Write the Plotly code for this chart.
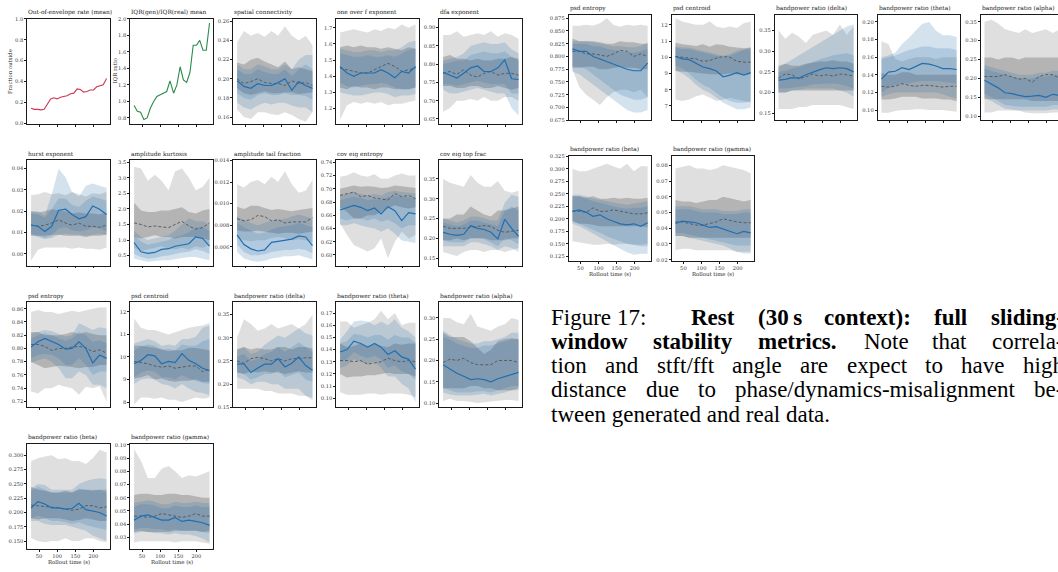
import plotly.graph_objects as go

# ---------------------------------------------------------------- data
times = [28, 47, 66, 85, 104, 123, 141, 160, 179, 198, 217, 236]
times_fine = [28, 37, 46, 55, 64, 73, 82, 91, 100, 109, 118, 127,
              137, 146, 155, 164, 173, 182, 191, 200, 209, 218, 227, 236]

out_of_envelope_rate = [0.145, 0.135, 0.135, 0.13, 0.135, 0.18, 0.235, 0.245, 0.235, 0.25, 0.26, 0.265,
                        0.285, 0.29, 0.33, 0.325, 0.30, 0.305, 0.32, 0.32, 0.35, 0.36, 0.37, 0.43]
iqr_ratio_mean = [0.95, 0.88, 0.87, 0.78, 0.80, 0.92, 1.0, 1.06, 1.08, 1.1, 1.12, 1.25,
                  1.1, 1.2, 1.42, 1.26, 1.23, 1.35, 1.68, 1.68, 1.74, 1.62, 1.62, 1.95]

# 60 s context metrics: percentiles over windows (p5, p25, p50, p75, p95)
spatial_connectivity = {
    "real": dict(p5=[0.168, 0.16, 0.158, 0.165, 0.165, 0.163, 0.162, 0.165, 0.162, 0.158, 0.155, 0.165],
                 p25=[0.19, 0.185, 0.183, 0.185, 0.187, 0.185, 0.185, 0.186, 0.186, 0.184, 0.185, 0.186],
                 p50=[0.2, 0.195, 0.197, 0.2, 0.196, 0.195, 0.195, 0.193, 0.198, 0.195, 0.196, 0.193],
                 p75=[0.217, 0.215, 0.22, 0.222, 0.218, 0.215, 0.212, 0.218, 0.21, 0.212, 0.21, 0.208],
                 p95=[0.238, 0.25, 0.245, 0.248, 0.244, 0.25, 0.245, 0.255, 0.245, 0.24, 0.245, 0.235]),
    "gen": dict(p5=[0.175, 0.17, 0.168, 0.172, 0.175, 0.173, 0.175, 0.175, 0.172, 0.17, 0.17, 0.165],
                p25=[0.185, 0.18, 0.178, 0.183, 0.185, 0.183, 0.183, 0.185, 0.183, 0.183, 0.182, 0.178],
                p50=[0.198, 0.192, 0.19, 0.195, 0.193, 0.193, 0.196, 0.2, 0.188, 0.197, 0.193, 0.19],
                p75=[0.21, 0.205, 0.205, 0.21, 0.207, 0.205, 0.205, 0.21, 0.203, 0.21, 0.215, 0.21],
                p95=[0.215, 0.21, 0.21, 0.215, 0.213, 0.21, 0.21, 0.215, 0.21, 0.22, 0.225, 0.225]),
}
one_over_f_exponent = {
    "real": dict(p5=[1.13, 1.22, 1.24, 1.23, 1.24, 1.23, 1.24, 1.22, 1.23, 1.23, 1.24, 1.25],
                 p25=[1.33, 1.32, 1.34, 1.33, 1.33, 1.32, 1.33, 1.33, 1.32, 1.32, 1.32, 1.33],
                 p50=[1.45, 1.44, 1.43, 1.42, 1.42, 1.44, 1.46, 1.48, 1.46, 1.43, 1.44, 1.45],
                 p75=[1.58, 1.59, 1.58, 1.59, 1.58, 1.58, 1.57, 1.58, 1.57, 1.56, 1.58, 1.57],
                 p95=[1.67, 1.68, 1.69, 1.68, 1.67, 1.69, 1.68, 1.70, 1.69, 1.72, 1.70, 1.72]),
    "gen": dict(p5=[1.30, 1.29, 1.28, 1.28, 1.29, 1.30, 1.30, 1.29, 1.27, 1.28, 1.28, 1.29],
                p25=[1.36, 1.34, 1.33, 1.34, 1.35, 1.35, 1.36, 1.35, 1.33, 1.32, 1.32, 1.33],
                p50=[1.46, 1.42, 1.40, 1.42, 1.42, 1.42, 1.44, 1.42, 1.39, 1.43, 1.42, 1.46],
                p75=[1.54, 1.53, 1.52, 1.52, 1.53, 1.52, 1.52, 1.53, 1.52, 1.54, 1.56, 1.57],
                p95=[1.57, 1.56, 1.55, 1.55, 1.56, 1.56, 1.55, 1.56, 1.56, 1.58, 1.61, 1.62]),
}
dfa_exponent = {
    "real": dict(p5=[0.67, 0.68, 0.70, 0.70, 0.705, 0.70, 0.71, 0.70, 0.70, 0.71, 0.71, 0.70],
                 p25=[0.74, 0.74, 0.735, 0.735, 0.74, 0.74, 0.735, 0.735, 0.74, 0.735, 0.73, 0.735],
                 p50=[0.775, 0.78, 0.772, 0.785, 0.77, 0.765, 0.775, 0.78, 0.77, 0.775, 0.775, 0.77],
                 p75=[0.82, 0.825, 0.815, 0.815, 0.81, 0.815, 0.81, 0.81, 0.815, 0.815, 0.82, 0.815],
                 p95=[0.88, 0.88, 0.89, 0.875, 0.88, 0.885, 0.88, 0.89, 0.875, 0.885, 0.88, 0.87]),
    "gen": dict(p5=[0.73, 0.72, 0.72, 0.725, 0.73, 0.735, 0.73, 0.725, 0.72, 0.72, 0.68, 0.66],
                p25=[0.745, 0.745, 0.74, 0.745, 0.75, 0.755, 0.75, 0.745, 0.745, 0.745, 0.72, 0.72],
                p50=[0.778, 0.77, 0.762, 0.775, 0.79, 0.795, 0.78, 0.78, 0.79, 0.812, 0.76, 0.758],
                p75=[0.80, 0.805, 0.81, 0.81, 0.825, 0.83, 0.835, 0.83, 0.83, 0.835, 0.82, 0.81],
                p95=[0.81, 0.815, 0.82, 0.83, 0.85, 0.855, 0.86, 0.855, 0.855, 0.86, 0.84, 0.83]),
}
hurst_exponent = {
    "real": dict(p5=[-0.003, 0.002, 0.003, 0.003, 0.003, 0.003, 0.0025, 0.003, 0.0025, 0.0025, 0.002, 0.003],
                 p25=[0.0085, 0.0085, 0.0085, 0.009, 0.009, 0.0085, 0.0085, 0.0085, 0.008, 0.0085, 0.0085, 0.009],
                 p50=[0.0135, 0.013, 0.0135, 0.0145, 0.016, 0.0145, 0.0135, 0.0145, 0.013, 0.013, 0.0125, 0.0135],
                 p75=[0.020, 0.0195, 0.02, 0.021, 0.0205, 0.02, 0.019, 0.0195, 0.019, 0.019, 0.0185, 0.0195],
                 p95=[0.0275, 0.028, 0.029, 0.028, 0.0285, 0.0275, 0.029, 0.028, 0.027, 0.0285, 0.028, 0.029]),
    "gen": dict(p5=[0.009, 0.008, 0.007, 0.0075, 0.009, 0.0095, 0.009, 0.009, 0.0085, 0.009, 0.0095, 0.009],
                p25=[0.0095, 0.0085, 0.0075, 0.0085, 0.012, 0.0125, 0.011, 0.0105, 0.011, 0.0125, 0.012, 0.0105],
                p50=[0.0135, 0.013, 0.0105, 0.013, 0.0205, 0.021, 0.0185, 0.0165, 0.0175, 0.0225, 0.021, 0.0185],
                p75=[0.019, 0.0185, 0.017, 0.021, 0.026, 0.026, 0.023, 0.022, 0.025, 0.027, 0.026, 0.025],
                p95=[0.020, 0.020, 0.018, 0.028, 0.040, 0.036, 0.029, 0.027, 0.032, 0.033, 0.032, 0.031]),
}
amplitude_kurtosis = {
    "real": dict(p5=[0.75, 0.65, 0.7, 0.75, 0.8, 0.72, 0.7, 0.75, 0.7, 0.8, 0.75, 0.85],
                 p25=[1.1, 1.05, 1.1, 1.15, 1.1, 1.1, 1.05, 1.1, 1.1, 1.1, 1.05, 1.0],
                 p50=[1.55, 1.5, 1.42, 1.45, 1.42, 1.4, 1.5, 1.6, 1.45, 1.35, 1.4, 1.55],
                 p75=[2.2, 1.95, 1.9, 1.9, 1.95, 1.95, 2.0, 2.05, 1.9, 1.85, 1.95, 2.0],
                 p95=[3.35, 3.3, 2.9, 3.1, 2.9, 2.6, 3.2, 3.3, 3.0, 2.6, 2.7, 3.0]),
    "gen": dict(p5=[0.4, 0.35, 0.3, 0.32, 0.35, 0.35, 0.4, 0.42, 0.45, 0.45, 0.4, 0.35],
                p25=[0.55, 0.45, 0.4, 0.42, 0.48, 0.5, 0.55, 0.6, 0.62, 0.7, 0.65, 0.55],
                p50=[0.92, 0.62, 0.57, 0.6, 0.7, 0.72, 0.8, 0.85, 0.88, 1.1, 1.05, 0.8],
                p75=[1.15, 0.95, 0.85, 0.9, 0.95, 1.0, 1.1, 1.15, 1.25, 1.4, 1.4, 1.3],
                p95=[1.3, 1.1, 1.0, 1.05, 1.1, 1.15, 1.3, 1.5, 1.7, 1.6, 1.6, 1.5]),
}
amplitude_tail_fraction = {
    "real": dict(p5=[0.0068, 0.0066, 0.0065, 0.0066, 0.0066, 0.0068, 0.0069, 0.0068, 0.0066, 0.0067, 0.0066, 0.0064],
                 p25=[0.0075, 0.0074, 0.0074, 0.0075, 0.0074, 0.0073, 0.0072, 0.0073, 0.0073, 0.0072, 0.0073, 0.0074],
                 p50=[0.0086, 0.0084, 0.0085, 0.0089, 0.0088, 0.0084, 0.0085, 0.0082, 0.0083, 0.0083, 0.0083, 0.0087],
                 p75=[0.0097, 0.0095, 0.0098, 0.0098, 0.0096, 0.0094, 0.0095, 0.0094, 0.0093, 0.0094, 0.0095, 0.0096],
                 p95=[0.0118, 0.0115, 0.012, 0.0122, 0.0118, 0.0125, 0.012, 0.013, 0.0118, 0.011, 0.0112, 0.0122]),
    "gen": dict(p5=[0.0055, 0.0049, 0.0047, 0.0046, 0.0047, 0.0049, 0.005, 0.0051, 0.0051, 0.0052, 0.005, 0.0048],
                p25=[0.0062, 0.0055, 0.0052, 0.0052, 0.0053, 0.0055, 0.0056, 0.0057, 0.0057, 0.0058, 0.0057, 0.0054],
                p50=[0.0071, 0.0062, 0.0058, 0.0056, 0.0057, 0.0064, 0.0065, 0.0066, 0.0067, 0.0070, 0.0069, 0.0061],
                p75=[0.0082, 0.0078, 0.0075, 0.0072, 0.0073, 0.0076, 0.0078, 0.0079, 0.0080, 0.0082, 0.0080, 0.0078],
                p95=[0.0088, 0.0085, 0.0082, 0.008, 0.0082, 0.0084, 0.0085, 0.0086, 0.0088, 0.0090, 0.0088, 0.0086]),
}
cov_eig_entropy = {
    "real": dict(p5=[0.648, 0.63, 0.615, 0.61, 0.605, 0.61, 0.625, 0.595, 0.62, 0.635, 0.625, 0.63],
                 p25=[0.672, 0.665, 0.655, 0.655, 0.66, 0.66, 0.665, 0.67, 0.675, 0.672, 0.67, 0.672],
                 p50=[0.69, 0.692, 0.695, 0.688, 0.69, 0.686, 0.684, 0.683, 0.693, 0.688, 0.69, 0.685],
                 p75=[0.70, 0.702, 0.705, 0.703, 0.704, 0.703, 0.701, 0.702, 0.705, 0.704, 0.703, 0.701],
                 p95=[0.718, 0.72, 0.725, 0.72, 0.718, 0.722, 0.715, 0.715, 0.72, 0.723, 0.72, 0.72]),
    "gen": dict(p5=[0.645, 0.645, 0.648, 0.645, 0.642, 0.64, 0.635, 0.64, 0.632, 0.622, 0.62, 0.618],
                p25=[0.655, 0.652, 0.655, 0.655, 0.652, 0.655, 0.65, 0.653, 0.648, 0.64, 0.645, 0.645],
                p50=[0.668, 0.672, 0.675, 0.672, 0.667, 0.671, 0.662, 0.673, 0.667, 0.652, 0.664, 0.662],
                p75=[0.683, 0.685, 0.688, 0.686, 0.683, 0.684, 0.683, 0.688, 0.69, 0.688, 0.687, 0.686],
                p95=[0.69, 0.692, 0.695, 0.692, 0.69, 0.692, 0.69, 0.695, 0.697, 0.695, 0.694, 0.693]),
}
cov_eig_top_frac = {
    "real": dict(p5=[0.165, 0.16, 0.155, 0.165, 0.17, 0.17, 0.165, 0.17, 0.17, 0.165, 0.17, 0.175],
                 p25=[0.195, 0.195, 0.2, 0.195, 0.2, 0.2, 0.2, 0.195, 0.195, 0.195, 0.2, 0.2],
                 p50=[0.23, 0.225, 0.225, 0.225, 0.228, 0.23, 0.232, 0.23, 0.22, 0.215, 0.218, 0.22],
                 p75=[0.25, 0.25, 0.26, 0.26, 0.28, 0.27, 0.26, 0.255, 0.27, 0.27, 0.275, 0.28],
                 p95=[0.35, 0.34, 0.335, 0.33, 0.36, 0.34, 0.33, 0.33, 0.345, 0.32, 0.315, 0.32]),
    "gen": dict(p5=[0.18, 0.18, 0.18, 0.18, 0.19, 0.19, 0.185, 0.18, 0.17, 0.18, 0.175, 0.165],
                p25=[0.195, 0.19, 0.19, 0.19, 0.2, 0.2, 0.198, 0.19, 0.18, 0.2, 0.195, 0.185],
                p50=[0.215, 0.21, 0.207, 0.21, 0.232, 0.225, 0.222, 0.215, 0.198, 0.248, 0.225, 0.205],
                p75=[0.24, 0.235, 0.23, 0.235, 0.245, 0.245, 0.24, 0.235, 0.23, 0.27, 0.28, 0.27],
                p95=[0.25, 0.245, 0.24, 0.245, 0.255, 0.255, 0.25, 0.245, 0.245, 0.29, 0.31, 0.305]),
}
psd_entropy = {
    "real": dict(p5=[0.735, 0.732, 0.74, 0.74, 0.745, 0.742, 0.74, 0.73, 0.742, 0.74, 0.743, 0.72],
                 p25=[0.78, 0.775, 0.77, 0.772, 0.774, 0.773, 0.772, 0.77, 0.772, 0.772, 0.775, 0.775],
                 p50=[0.806, 0.806, 0.803, 0.797, 0.80, 0.80, 0.802, 0.803, 0.801, 0.795, 0.798, 0.793],
                 p75=[0.825, 0.825, 0.82, 0.82, 0.82, 0.822, 0.825, 0.822, 0.825, 0.822, 0.82, 0.82],
                 p95=[0.855, 0.858, 0.855, 0.855, 0.852, 0.855, 0.857, 0.855, 0.858, 0.86, 0.862, 0.862]),
    "gen": dict(p5=[0.778, 0.782, 0.785, 0.78, 0.77, 0.755, 0.755, 0.765, 0.76, 0.745, 0.745, 0.74],
                p25=[0.785, 0.79, 0.792, 0.79, 0.785, 0.775, 0.775, 0.785, 0.775, 0.76, 0.765, 0.765],
                p50=[0.802, 0.81, 0.815, 0.811, 0.806, 0.799, 0.80, 0.81, 0.80, 0.778, 0.79, 0.785],
                p75=[0.815, 0.82, 0.823, 0.82, 0.815, 0.812, 0.815, 0.825, 0.82, 0.81, 0.812, 0.808],
                p95=[0.822, 0.825, 0.828, 0.826, 0.822, 0.818, 0.82, 0.838, 0.833, 0.828, 0.832, 0.83]),
}
psd_centroid = {
    "real": dict(p5=[7.9, 8.2, 8.2, 8.15, 8.2, 8.1, 8.1, 8.0, 8.1, 8.2, 8.15, 8.2],
                 p25=[9.05, 9.1, 9.2, 9.0, 9.05, 8.95, 8.9, 8.95, 8.95, 9.0, 8.9, 8.9],
                 p50=[9.8, 9.75, 9.7, 9.6, 9.55, 9.6, 9.5, 9.55, 9.6, 9.6, 9.35, 9.45],
                 p75=[10.5, 10.5, 10.45, 10.4, 10.35, 10.25, 10.3, 10.3, 10.4, 10.4, 10.35, 10.3],
                 p95=[11.7, 11.3, 11.2, 11.2, 11.1, 11.0, 11.1, 11.2, 11.3, 11.35, 11.4, 11.5]),
    "gen": dict(p5=[8.8, 9.0, 9.05, 9.0, 8.8, 8.75, 8.6, 8.8, 8.6, 8.45, 8.4, 8.3],
                p25=[9.1, 9.3, 9.4, 9.35, 9.1, 9.1, 9.0, 9.2, 9.05, 8.95, 8.85, 8.8],
                p50=[9.7, 9.85, 10.1, 10.05, 9.7, 9.8, 9.75, 10.15, 9.85, 9.7, 9.5, 9.4],
                p75=[10.3, 10.45, 10.55, 10.5, 10.3, 10.35, 10.3, 10.55, 10.5, 10.5, 10.7, 10.8],
                p95=[10.6, 10.7, 10.8, 10.7, 10.5, 10.55, 10.5, 10.8, 10.8, 10.9, 11.3, 11.4]),
}
bandpower_delta = {
    "real": dict(p5=[0.19, 0.19, 0.19, 0.19, 0.185, 0.185, 0.18, 0.18, 0.18, 0.175, 0.175, 0.17],
                 p25=[0.225, 0.222, 0.228, 0.225, 0.228, 0.225, 0.225, 0.222, 0.225, 0.228, 0.225, 0.225],
                 p50=[0.25, 0.245, 0.255, 0.258, 0.255, 0.25, 0.255, 0.25, 0.255, 0.255, 0.257, 0.257],
                 p75=[0.275, 0.28, 0.275, 0.278, 0.275, 0.275, 0.28, 0.28, 0.275, 0.28, 0.28, 0.277],
                 p95=[0.30, 0.34, 0.33, 0.315, 0.32, 0.33, 0.32, 0.325, 0.33, 0.32, 0.33, 0.35]),
    "gen": dict(p5=[0.215, 0.21, 0.2, 0.205, 0.205, 0.2, 0.2, 0.19, 0.19, 0.19, 0.175, 0.165],
                p25=[0.225, 0.222, 0.21, 0.215, 0.222, 0.222, 0.23, 0.215, 0.22, 0.225, 0.21, 0.205],
                p50=[0.243, 0.244, 0.225, 0.235, 0.243, 0.243, 0.255, 0.237, 0.245, 0.259, 0.24, 0.23],
                p75=[0.26, 0.265, 0.25, 0.255, 0.265, 0.27, 0.28, 0.27, 0.28, 0.29, 0.28, 0.27],
                p95=[0.275, 0.28, 0.265, 0.27, 0.285, 0.295, 0.305, 0.30, 0.31, 0.32, 0.31, 0.305]),
}
bandpower_theta = {
    "real": dict(p5=[0.105, 0.103, 0.103, 0.103, 0.104, 0.104, 0.103, 0.104, 0.104, 0.104, 0.103, 0.101],
                 p25=[0.12, 0.117, 0.118, 0.118, 0.119, 0.119, 0.12, 0.121, 0.12, 0.12, 0.12, 0.118],
                 p50=[0.131, 0.131, 0.13, 0.131, 0.128, 0.129, 0.13, 0.133, 0.131, 0.13, 0.131, 0.13],
                 p75=[0.145, 0.142, 0.143, 0.145, 0.143, 0.145, 0.143, 0.142, 0.145, 0.144, 0.145, 0.145],
                 p95=[0.163, 0.163, 0.158, 0.16, 0.162, 0.165, 0.172, 0.165, 0.17, 0.16, 0.162, 0.162]),
    "gen": dict(p5=[0.125, 0.127, 0.132, 0.13, 0.128, 0.13, 0.125, 0.118, 0.118, 0.112, 0.108, 0.097],
                p25=[0.13, 0.132, 0.138, 0.135, 0.133, 0.135, 0.132, 0.125, 0.127, 0.122, 0.12, 0.115],
                p50=[0.138, 0.14, 0.147, 0.145, 0.142, 0.145, 0.142, 0.136, 0.139, 0.134, 0.132, 0.124],
                p75=[0.145, 0.147, 0.153, 0.152, 0.15, 0.152, 0.152, 0.148, 0.152, 0.15, 0.15, 0.146],
                p95=[0.148, 0.155, 0.163, 0.164, 0.163, 0.16, 0.163, 0.16, 0.165, 0.158, 0.155, 0.15]),
}
bandpower_alpha = {
    "real": dict(p5=[0.105, 0.11, 0.105, 0.105, 0.103, 0.1, 0.102, 0.104, 0.105, 0.107, 0.107, 0.105],
                 p25=[0.135, 0.135, 0.135, 0.135, 0.14, 0.14, 0.135, 0.135, 0.13, 0.13, 0.13, 0.135],
                 p50=[0.195, 0.203, 0.2, 0.205, 0.195, 0.19, 0.19, 0.19, 0.2, 0.2, 0.2, 0.195],
                 p75=[0.265, 0.255, 0.255, 0.255, 0.245, 0.23, 0.215, 0.225, 0.245, 0.25, 0.252, 0.25],
                 p95=[0.30, 0.30, 0.29, 0.285, 0.31, 0.28, 0.275, 0.27, 0.28, 0.285, 0.30, 0.295]),
    "gen": dict(p5=[0.125, 0.12, 0.118, 0.118, 0.118, 0.12, 0.122, 0.118, 0.122, 0.125, 0.13, 0.13],
                p25=[0.135, 0.13, 0.125, 0.125, 0.125, 0.128, 0.128, 0.125, 0.13, 0.135, 0.14, 0.14],
                p50=[0.19, 0.18, 0.17, 0.163, 0.155, 0.157, 0.155, 0.15, 0.157, 0.162, 0.167, 0.172],
                p75=[0.255, 0.25, 0.24, 0.235, 0.23, 0.23, 0.235, 0.235, 0.24, 0.245, 0.25, 0.25],
                p95=[0.27, 0.26, 0.25, 0.245, 0.24, 0.24, 0.245, 0.245, 0.25, 0.255, 0.265, 0.265]),
}
bandpower_beta = {
    "real": dict(p5=[0.155, 0.15, 0.148, 0.15, 0.15, 0.155, 0.15, 0.15, 0.155, 0.155, 0.15, 0.148],
                 p25=[0.19, 0.188, 0.19, 0.19, 0.19, 0.188, 0.185, 0.187, 0.19, 0.188, 0.185, 0.185],
                 p50=[0.213, 0.212, 0.21, 0.21, 0.208, 0.206, 0.204, 0.206, 0.212, 0.212, 0.208, 0.21],
                 p75=[0.245, 0.24, 0.238, 0.235, 0.235, 0.238, 0.235, 0.24, 0.24, 0.238, 0.24, 0.24],
                 p95=[0.29, 0.295, 0.298, 0.30, 0.293, 0.295, 0.29, 0.29, 0.285, 0.295, 0.31, 0.305]),
    "gen": dict(p5=[0.185, 0.185, 0.18, 0.178, 0.178, 0.178, 0.175, 0.172, 0.168, 0.16, 0.155, 0.15],
                p25=[0.19, 0.195, 0.19, 0.185, 0.185, 0.183, 0.18, 0.183, 0.178, 0.175, 0.172, 0.17],
                p50=[0.208, 0.219, 0.215, 0.208, 0.208, 0.206, 0.207, 0.216, 0.205, 0.203, 0.2, 0.194],
                p75=[0.238, 0.245, 0.24, 0.235, 0.235, 0.235, 0.235, 0.242, 0.24, 0.24, 0.24, 0.235],
                p95=[0.242, 0.25, 0.248, 0.24, 0.24, 0.24, 0.24, 0.25, 0.255, 0.258, 0.26, 0.258]),
}
bandpower_gamma = {
    "real": dict(p5=[0.026, 0.027, 0.027, 0.027, 0.027, 0.027, 0.026, 0.027, 0.027, 0.027, 0.026, 0.025],
                 p25=[0.034, 0.035, 0.034, 0.034, 0.034, 0.034, 0.035, 0.035, 0.035, 0.035, 0.034, 0.035],
                 p50=[0.046, 0.046, 0.045, 0.046, 0.048, 0.047, 0.046, 0.045, 0.046, 0.048, 0.046, 0.046],
                 p75=[0.062, 0.063, 0.063, 0.062, 0.062, 0.063, 0.063, 0.062, 0.062, 0.061, 0.06, 0.06],
                 p95=[0.097, 0.088, 0.075, 0.075, 0.082, 0.084, 0.08, 0.075, 0.077, 0.076, 0.078, 0.08]),
    "gen": dict(p5=[0.033, 0.034, 0.034, 0.033, 0.033, 0.032, 0.033, 0.032, 0.032, 0.031, 0.029, 0.026],
                p25=[0.036, 0.037, 0.037, 0.036, 0.036, 0.035, 0.036, 0.035, 0.035, 0.035, 0.034, 0.033],
                p50=[0.043, 0.046, 0.047, 0.045, 0.043, 0.043, 0.045, 0.042, 0.043, 0.042, 0.041, 0.039],
                p75=[0.053, 0.055, 0.055, 0.054, 0.052, 0.052, 0.054, 0.053, 0.053, 0.054, 0.053, 0.053],
                p95=[0.056, 0.057, 0.058, 0.057, 0.055, 0.055, 0.057, 0.056, 0.056, 0.057, 0.056, 0.056]),
}

# 30 s context metrics
rest30_psd_entropy = {
    "real": dict(p5=[0.775, 0.74, 0.725, 0.715, 0.705, 0.72, 0.73, 0.735, 0.735, 0.73, 0.735, 0.72],
                 p25=[0.778, 0.778, 0.78, 0.78, 0.775, 0.775, 0.778, 0.78, 0.778, 0.778, 0.775, 0.775],
                 p50=[0.81, 0.81, 0.805, 0.805, 0.803, 0.80, 0.805, 0.812, 0.81, 0.80, 0.805, 0.80],
                 p75=[0.835, 0.83, 0.83, 0.83, 0.828, 0.825, 0.825, 0.83, 0.828, 0.828, 0.825, 0.825],
                 p95=[0.86, 0.86, 0.862, 0.86, 0.865, 0.875, 0.862, 0.858, 0.862, 0.86, 0.862, 0.86]),
    "gen": dict(p5=[0.77, 0.765, 0.755, 0.745, 0.735, 0.725, 0.715, 0.705, 0.695, 0.69, 0.69, 0.695],
                p25=[0.78, 0.78, 0.775, 0.765, 0.755, 0.745, 0.735, 0.725, 0.72, 0.715, 0.715, 0.72],
                p50=[0.815, 0.81, 0.81, 0.80, 0.795, 0.79, 0.785, 0.78, 0.775, 0.772, 0.772, 0.787],
                p75=[0.825, 0.825, 0.825, 0.82, 0.82, 0.815, 0.812, 0.81, 0.808, 0.808, 0.81, 0.815],
                p95=[0.83, 0.83, 0.83, 0.828, 0.825, 0.822, 0.82, 0.82, 0.818, 0.818, 0.82, 0.828]),
}
rest30_psd_centroid = {
    "real": dict(p5=[7.4, 7.3, 7.4, 7.6, 7.7, 7.5, 7.3, 7.4, 7.5, 7.4, 7.3, 7.2],
                 p25=[9.15, 9.1, 9.1, 9.05, 9.0, 8.95, 8.95, 8.95, 9.0, 8.95, 8.9, 8.95],
                 p50=[10.05, 10.0, 9.95, 9.9, 9.75, 9.8, 9.95, 10.05, 10.0, 9.75, 9.7, 9.7],
                 p75=[10.9, 10.8, 10.75, 10.7, 10.8, 10.65, 10.8, 10.75, 10.65, 10.6, 10.55, 10.6],
                 p95=[12.4, 12.2, 12.1, 12.0, 12.0, 12.2, 11.9, 11.8, 11.9, 11.8, 12.1, 12.2]),
    "gen": dict(p5=[9.2, 9.0, 8.7, 8.3, 8.0, 7.8, 7.5, 7.2, 7.0, 6.8, 6.8, 6.9],
                p25=[9.5, 9.3, 9.0, 8.6, 8.3, 8.1, 7.8, 7.5, 7.3, 7.2, 7.2, 7.3],
                p50=[10.05, 9.9, 9.85, 9.6, 9.4, 9.3, 9.15, 8.8, 8.9, 9.05, 8.9, 9.05],
                p75=[10.6, 10.5, 10.5, 10.4, 10.3, 10.2, 10.1, 10.0, 10.1, 10.3, 10.45, 10.5],
                p95=[10.7, 10.6, 10.6, 10.5, 10.4, 10.3, 10.2, 10.1, 10.2, 10.4, 10.5, 10.6]),
}
rest30_bandpower_delta = {
    "real": dict(p5=[0.16, 0.16, 0.16, 0.165, 0.165, 0.17, 0.17, 0.17, 0.17, 0.17, 0.165, 0.16],
                 p25=[0.20, 0.20, 0.205, 0.205, 0.205, 0.205, 0.205, 0.205, 0.205, 0.205, 0.205, 0.205],
                 p50=[0.235, 0.245, 0.243, 0.233, 0.238, 0.245, 0.24, 0.243, 0.24, 0.245, 0.243, 0.24],
                 p75=[0.265, 0.27, 0.265, 0.265, 0.27, 0.272, 0.275, 0.275, 0.278, 0.275, 0.275, 0.27],
                 p95=[0.35, 0.33, 0.345, 0.335, 0.32, 0.34, 0.345, 0.35, 0.34, 0.365, 0.34, 0.36]),
    "gen": dict(p5=[0.20, 0.20, 0.205, 0.207, 0.21, 0.21, 0.21, 0.21, 0.21, 0.205, 0.20, 0.19],
                p25=[0.21, 0.21, 0.212, 0.213, 0.215, 0.22, 0.22, 0.222, 0.222, 0.22, 0.215, 0.21],
                p50=[0.23, 0.232, 0.236, 0.235, 0.243, 0.25, 0.255, 0.26, 0.258, 0.26, 0.258, 0.25],
                p75=[0.25, 0.253, 0.258, 0.262, 0.268, 0.275, 0.28, 0.285, 0.29, 0.293, 0.295, 0.29],
                p95=[0.26, 0.27, 0.28, 0.29, 0.30, 0.31, 0.32, 0.33, 0.34, 0.35, 0.36, 0.365]),
}
rest30_bandpower_theta = {
    "real": dict(p5=[0.097, 0.097, 0.099, 0.10, 0.10, 0.101, 0.101, 0.10, 0.10, 0.10, 0.099, 0.098],
                 p25=[0.112, 0.112, 0.113, 0.115, 0.115, 0.115, 0.113, 0.113, 0.113, 0.112, 0.112, 0.11],
                 p50=[0.127, 0.126, 0.127, 0.13, 0.128, 0.127, 0.128, 0.128, 0.127, 0.126, 0.127, 0.127],
                 p75=[0.142, 0.14, 0.14, 0.143, 0.143, 0.14, 0.14, 0.14, 0.14, 0.14, 0.14, 0.14],
                 p95=[0.178, 0.175, 0.158, 0.155, 0.158, 0.16, 0.16, 0.16, 0.158, 0.16, 0.16, 0.16]),
    "gen": dict(p5=[0.115, 0.118, 0.12, 0.12, 0.12, 0.12, 0.12, 0.12, 0.12, 0.118, 0.115, 0.113],
                p25=[0.12, 0.125, 0.128, 0.13, 0.13, 0.132, 0.133, 0.133, 0.133, 0.132, 0.131, 0.13],
                p50=[0.135, 0.143, 0.144, 0.148, 0.146, 0.15, 0.153, 0.152, 0.15, 0.147, 0.147, 0.146],
                p75=[0.158, 0.16, 0.162, 0.165, 0.168, 0.17, 0.172, 0.172, 0.17, 0.17, 0.17, 0.168],
                p95=[0.16, 0.162, 0.165, 0.175, 0.182, 0.19, 0.198, 0.20, 0.19, 0.185, 0.185, 0.183]),
}
rest30_bandpower_alpha = {
    "real": dict(p5=[0.11, 0.11, 0.115, 0.115, 0.115, 0.115, 0.11, 0.108, 0.108, 0.108, 0.11, 0.11],
                 p25=[0.145, 0.145, 0.145, 0.145, 0.145, 0.145, 0.145, 0.14, 0.14, 0.14, 0.14, 0.14],
                 p50=[0.205, 0.205, 0.205, 0.21, 0.205, 0.198, 0.20, 0.19, 0.205, 0.21, 0.21, 0.20],
                 p75=[0.255, 0.255, 0.25, 0.255, 0.255, 0.25, 0.255, 0.255, 0.255, 0.255, 0.255, 0.255],
                 p95=[0.35, 0.355, 0.345, 0.33, 0.325, 0.32, 0.33, 0.32, 0.325, 0.33, 0.32, 0.33]),
    "gen": dict(p5=[0.15, 0.14, 0.13, 0.12, 0.118, 0.115, 0.115, 0.115, 0.115, 0.115, 0.118, 0.118],
                p25=[0.16, 0.15, 0.14, 0.13, 0.128, 0.125, 0.125, 0.125, 0.125, 0.125, 0.13, 0.13],
                p50=[0.195, 0.185, 0.175, 0.162, 0.16, 0.155, 0.152, 0.153, 0.155, 0.15, 0.158, 0.155],
                p75=[0.225, 0.22, 0.215, 0.21, 0.205, 0.20, 0.20, 0.20, 0.205, 0.205, 0.21, 0.21],
                p95=[0.235, 0.23, 0.225, 0.22, 0.215, 0.21, 0.21, 0.21, 0.215, 0.215, 0.22, 0.22]),
}
rest30_bandpower_beta = {
    "real": dict(p5=[0.155, 0.152, 0.15, 0.148, 0.148, 0.15, 0.148, 0.15, 0.15, 0.148, 0.145, 0.145],
                 p25=[0.195, 0.19, 0.19, 0.188, 0.185, 0.185, 0.185, 0.185, 0.185, 0.185, 0.185, 0.183],
                 p50=[0.215, 0.215, 0.213, 0.222, 0.215, 0.215, 0.218, 0.215, 0.213, 0.21, 0.21, 0.212],
                 p75=[0.245, 0.245, 0.242, 0.245, 0.24, 0.24, 0.242, 0.24, 0.242, 0.24, 0.24, 0.242],
                 p95=[0.30, 0.295, 0.295, 0.30, 0.305, 0.31, 0.305, 0.30, 0.31, 0.295, 0.305, 0.305]),
    "gen": dict(p5=[0.19, 0.185, 0.178, 0.17, 0.162, 0.155, 0.148, 0.14, 0.133, 0.128, 0.13, 0.13],
                p25=[0.195, 0.19, 0.185, 0.178, 0.172, 0.165, 0.16, 0.155, 0.15, 0.148, 0.148, 0.15],
                p50=[0.215, 0.218, 0.213, 0.205, 0.208, 0.20, 0.195, 0.19, 0.188, 0.19, 0.185, 0.192],
                p75=[0.245, 0.245, 0.24, 0.235, 0.232, 0.228, 0.225, 0.222, 0.22, 0.222, 0.222, 0.225],
                p95=[0.248, 0.248, 0.245, 0.24, 0.238, 0.235, 0.232, 0.23, 0.228, 0.23, 0.232, 0.235]),
}
rest30_bandpower_gamma = {
    "real": dict(p5=[0.026, 0.027, 0.027, 0.026, 0.026, 0.026, 0.026, 0.026, 0.026, 0.025, 0.025, 0.025],
                 p25=[0.035, 0.035, 0.034, 0.034, 0.034, 0.034, 0.034, 0.034, 0.034, 0.034, 0.034, 0.034],
                 p50=[0.044, 0.044, 0.043, 0.042, 0.042, 0.043, 0.044, 0.046, 0.045, 0.044, 0.0435, 0.0435],
                 p75=[0.058, 0.057, 0.057, 0.056, 0.057, 0.058, 0.058, 0.06, 0.059, 0.058, 0.057, 0.058],
                 p95=[0.078, 0.079, 0.08, 0.078, 0.078, 0.077, 0.078, 0.08, 0.079, 0.078, 0.077, 0.075]),
    "gen": dict(p5=[0.035, 0.035, 0.034, 0.033, 0.032, 0.031, 0.03, 0.029, 0.027, 0.025, 0.024, 0.024],
                p25=[0.037, 0.037, 0.036, 0.035, 0.034, 0.033, 0.032, 0.031, 0.03, 0.029, 0.029, 0.029],
                p50=[0.043, 0.0445, 0.044, 0.0435, 0.042, 0.0405, 0.041, 0.0395, 0.038, 0.0365, 0.038, 0.037],
                p75=[0.052, 0.052, 0.052, 0.051, 0.05, 0.05, 0.05, 0.049, 0.049, 0.049, 0.05, 0.05],
                p95=[0.054, 0.054, 0.054, 0.053, 0.052, 0.052, 0.052, 0.051, 0.051, 0.051, 0.052, 0.052]),
}

# ---------------------------------------------------------------- style
W, H = 1058, 572
SERIF = "DejaVu Serif"
REAL_OUTER = "rgba(150,150,150,0.30)"
REAL_INNER = "rgba(110,110,110,0.38)"
GEN_OUTER = "rgba(40,112,172,0.20)"
GEN_INNER = "rgba(40,112,172,0.20)"
GEN_LINE = "#1f6fb2"
REAL_LINE = "#555555"
X_RANGE = [17.6, 246.4]

# (title, data, block, row, col, y range, dtick, tick format)
panels = [
    ("Out-of-envelope rate (mean)", "oer", "L", 0, 0, [-0.002, 1.002], 0.2, ".1f"),
    ("IQR(gen)/IQR(real) mean", "iqr", "L", 0, 1, [0.73, 2.004], 0.2, ".1f"),
    ("spatial connectivity", spatial_connectivity, "L", 0, 2, [0.153, 0.263], 0.02, ".2f"),
    ("one over f exponent", one_over_f_exponent, "L", 0, 3, [1.106, 1.757], 0.1, ".1f"),
    ("dfa exponent", dfa_exponent, "L", 0, 4, [0.637, 0.925], 0.05, ".2f"),
    ("hurst exponent", hurst_exponent, "L", 1, 0, [-0.0054, 0.0439], 0.01, ".2f"),
    ("amplitude kurtosis", amplitude_kurtosis, "L", 1, 1, [0.18, 3.56], 0.5, ".1f"),
    ("amplitude tail fraction", amplitude_tail_fraction, "L", 1, 2, [0.00425, 0.01402], 0.002, ".3f"),
    ("cov eig entropy", cov_eig_entropy, "L", 1, 3, [0.584, 0.743], 0.02, ".2f"),
    ("cov eig top frac", cov_eig_top_frac, "L", 1, 4, [0.131, 0.397], 0.05, ".2f"),
    ("psd entropy", psd_entropy, "L", 2, 0, [0.711, 0.87], 0.02, ".2f"),
    ("psd centroid", psd_centroid, "L", 2, 1, [7.77, 12.43], 1, ".0f"),
    ("bandpower ratio (delta)", bandpower_delta, "L", 2, 2, [0.15, 0.377], 0.05, ".2f"),
    ("bandpower ratio (theta)", bandpower_theta, "L", 2, 3, [0.0926, 0.179], 0.01, ".2f"),
    ("bandpower ratio (alpha)", bandpower_alpha, "L", 2, 4, [0.09, 0.337], 0.05, ".2f"),
    ("bandpower ratio (beta)", bandpower_beta, "L", 3, 0, [0.136, 0.32], 0.025, ".3f"),
    ("bandpower ratio (gamma)", bandpower_gamma, "L", 3, 1, [0.021, 0.1008], 0.01, ".2f"),
    ("psd entropy", rest30_psd_entropy, "R", 0, 0, [0.675, 0.8815], 0.025, ".3f"),
    ("psd centroid", rest30_psd_centroid, "R", 0, 1, [6.12, 12.61], 1, ".0f"),
    ("bandpower ratio (delta)", rest30_bandpower_delta, "R", 0, 2, [0.133, 0.388], 0.05, ".2f"),
    ("bandpower ratio (theta)", rest30_bandpower_theta, "R", 0, 3, [0.0884, 0.208], 0.02, ".2f"),
    ("bandpower ratio (alpha)", rest30_bandpower_alpha, "R", 0, 4, [0.0894, 0.368], 0.05, ".2f"),
    ("bandpower ratio (beta)", rest30_bandpower_beta, "R", 1, 0, [0.115, 0.326], 0.025, ".3f"),
    ("bandpower ratio (gamma)", rest30_bandpower_gamma, "R", 1, 1, [0.019, 0.086], 0.01, ".2f"),
]

# grid geometry in pixels
GRID = {
    "L": dict(x0=27.3, dx=103.0, w=83.0, y0=15.7, dy=143.3, h=106.3, last_row=3),
    "R": dict(x0=568.7, dx=103.0, w=82.7, y0=12.0, dy=142.5, h=106.5, last_row=1),
}

fig = go.Figure()
annotations = []
layout = {}


def ax_names(k):
    return ("x" if k == 1 else f"x{k}", "y" if k == 1 else f"y{k}",
            "xaxis" if k == 1 else f"xaxis{k}", "yaxis" if k == 1 else f"yaxis{k}")


def add_band(k, lo, hi, color):
    xr, yr, _, _ = ax_names(k)
    fig.add_trace(go.Scatter(x=times + times[::-1], y=list(hi) + list(lo)[::-1],
                             fill="toself", fillcolor=color, mode="lines",
                             line=dict(width=0), hoverinfo="skip",
                             xaxis=xr, yaxis=yr))


for k, (title, data, block, row, col, yrange, dtick, fmt) in enumerate(panels, start=1):
    g = GRID[block]
    left = g["x0"] + g["dx"] * col
    right = left + g["w"]
    top = g["y0"] + g["dy"] * row
    bottom = top + g["h"]
    xr, yr, xkey, ykey = ax_names(k)

    x_range = list(X_RANGE)
    mirror_y = True
    if right > W:  # panel runs past the page edge
        frac = (W - left) / (right - left)
        x_range = [X_RANGE[0], X_RANGE[0] + (X_RANGE[1] - X_RANGE[0]) * frac]
        right = W
        mirror_y = False

    show_xlabels = row == g["last_row"]
    common = dict(showline=True, linecolor="#1a1a1a", linewidth=0.9, ticks="outside",
                  ticklen=2, tickwidth=0.6, tickcolor="#1a1a1a", showgrid=False,
                  zeroline=False, tickfont=dict(family=SERIF, size=5.2, color="#333333"))
    layout[xkey] = dict(common, domain=[left / W, right / W], range=x_range, anchor=yr,
                        mirror=True, tickvals=[50, 100, 150, 200],
                        showticklabels=show_xlabels)
    layout[ykey] = dict(common, domain=[1 - bottom / H, 1 - top / H], range=yrange,
                        anchor=xr, mirror=mirror_y, dtick=dtick, tick0=0, tickformat=fmt)

    if data == "oer":
        fig.add_trace(go.Scatter(x=times_fine, y=out_of_envelope_rate, mode="lines",
                                 line=dict(color="#d1364f", width=1.1), xaxis=xr, yaxis=yr))
    elif data == "iqr":
        fig.add_trace(go.Scatter(x=times_fine, y=iqr_ratio_mean, mode="lines",
                                 line=dict(color="#2a8a4a", width=1.1), xaxis=xr, yaxis=yr))
    else:
        real, gen = data["real"], data["gen"]
        add_band(k, real["p5"], real["p95"], REAL_OUTER)
        add_band(k, real["p25"], real["p75"], REAL_INNER)
        add_band(k, gen["p5"], gen["p95"], GEN_OUTER)
        add_band(k, gen["p25"], gen["p75"], GEN_INNER)
        fig.add_trace(go.Scatter(x=times, y=real["p50"], mode="lines",
                                 line=dict(color=REAL_LINE, width=0.9, dash="3px,2px"),
                                 xaxis=xr, yaxis=yr))
        fig.add_trace(go.Scatter(x=times, y=gen["p50"], mode="lines",
                                 line=dict(color=GEN_LINE, width=1.2), xaxis=xr, yaxis=yr))

    annotations.append(dict(text=title, xref="paper", yref="paper", x=left / W,
                            y=1 - (top - 1.6) / H, xanchor="left", yanchor="bottom",
                            showarrow=False, borderpad=0,
                            font=dict(family=SERIF, size=5.9, color="#222222")))
    if show_xlabels:
        annotations.append(dict(text="Rollout time (s)", xref="paper", yref="paper",
                                x=(left + right) / 2 / W, y=1 - (bottom + 13) / H,
                                xanchor="center", yanchor="middle", showarrow=False,
                                borderpad=0, font=dict(family=SERIF, size=5.4, color="#222222")))

# y-axis labels of the two summary panels
for text, px_x in [("Fraction outside", 10.7), ("IQR ratio", 115.0)]:
    annotations.append(dict(text=text, xref="paper", yref="paper", x=px_x / W,
                            y=1 - 69 / H, textangle=-90, xanchor="center", yanchor="middle",
                            showarrow=False, borderpad=0,
                            font=dict(family=SERIF, size=5.4, color="#222222")))

# caption, set word by word to keep the justified spacing
caption_lines = [
    (325.3, [("Figure", False, 550), ("17:", False, 616), ("Rest", True, 690),
             ("(30\u2009s", True, 757), ("context):", True, 823), ("full", True, 933),
             ("sliding-", True, 990)]),
    (349.8, [("window", True, 550), ("stability", True, 652), ("metrics.", True, 757),
             ("Note", False, 863), ("that", False, 931), ("correla-", False, 991)]),
    (374.3, [("tion", False, 550), ("and", False, 604), ("stft/fft", False, 656),
             ("angle", False, 731), ("are", False, 799), ("expect", False, 846),
             ("to", False, 924), ("have", False, 960), ("high", False, 1022)]),
    (398.8, [("distance", False, 550), ("due", False, 645), ("to", False, 697),
             ("phase/dynamics-misalignment", False, 734), ("be-", False, 1033)]),
    (423.3, [("tween generated and real data.", False, 550)]),
]
CAP_SIZE = 23
for baseline, words in caption_lines:
    for word, bold, px_x in words:
        annotations.append(dict(text=f"<b>{word}</b>" if bold else word,
                                xref="paper", yref="paper", x=px_x / W,
                                y=1 - (baseline - 0.3375 * CAP_SIZE) / H,
                                xanchor="left", yanchor="middle", showarrow=False,
                                borderpad=0,
                                font=dict(family="Liberation Serif", size=CAP_SIZE,
                                          color="#000000")))

fig.update_layout(width=W, height=H, margin=dict(l=0, r=0, t=0, b=0),
                  paper_bgcolor="white", plot_bgcolor="white", showlegend=False,
                  annotations=annotations, **layout)

fig.write_html("out.html")
